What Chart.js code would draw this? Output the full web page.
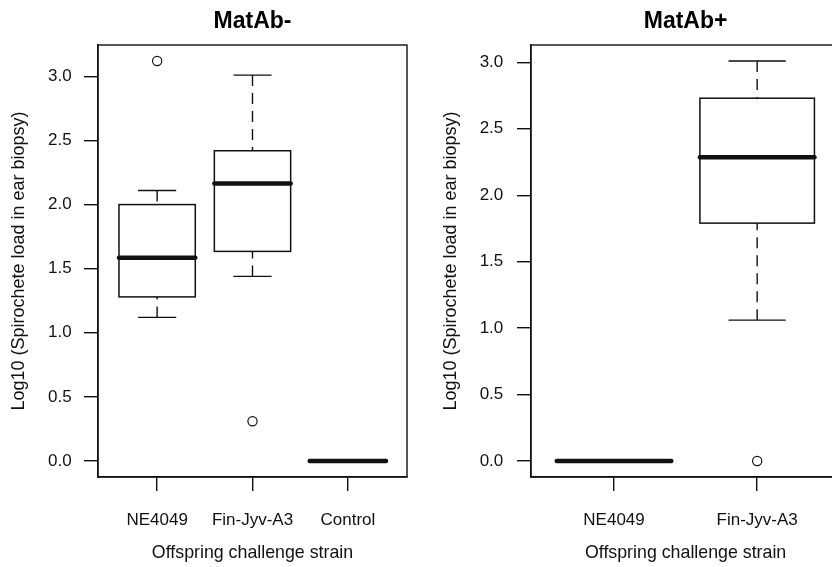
<!DOCTYPE html>
<html>
<head>
<meta charset="utf-8">
<script src="https://cdn.jsdelivr.net/npm/chart.js@4/dist/chart.umd.min.js"></script>
<style>
  html, body { margin: 0; padding: 0; background: #fff; overflow: hidden; width: 832px; height: 567px; }
  canvas { position: absolute; top: 0; }
  #c1 { left: 0; }
  #c2 { left: 416px; }
</style>
</head>
<body>
<canvas id="c1" width="416" height="567"></canvas>
<canvas id="c2" width="430" height="567"></canvas>
<script>
// ---------- data ----------
const panelTitles = ['MatAb-', 'MatAb+'];
const yAxisTitle = 'Log10 (Spirochete load in ear biopsy)';
const xAxisTitle = 'Offspring challenge strain';
const yTickValues = [0, 0.5, 1.0, 1.5, 2.0, 2.5, 3.0];

// MatAb- panel
const catsMinus = ['NE4049', 'Fin-Jyv-A3', 'Control'];
const lowWhiskMinus = [1.12, 1.44, 0];
const q1Minus = [1.28, 1.635, 0];
const medianMinus = [1.585, 2.165, 0];
const q3Minus = [2.00, 2.42, 0];
const highWhiskMinus = [2.11, 3.01, 0];
const outliersMinus = [[3.12], [0.31], []];

// MatAb+ panel
const catsPlus = ['NE4049', 'Fin-Jyv-A3'];
const lowWhiskPlus = [0, 1.06];
const q1Plus = [0, 1.79];
const medianPlus = [0, 2.285];
const q3Plus = [0, 2.73];
const highWhiskPlus = [0, 3.01];
const outliersPlus = [[], [0]];

// ---------- drawing ----------
const INK = '#111';
const FONT = '"Liberation Sans", Arial, Helvetica, sans-serif';
Chart.defaults.font.family = FONT;
Chart.defaults.color = INK;

const BOXWEX = 0.8;

const boxPlugin = {
  id: 'rbox',
  afterDatasetsDraw(chart, args, opts) {
    const { ctx, scales: { x, y } } = chart;
    const s = opts.stats;
    ctx.save();
    ctx.strokeStyle = INK;
    for (let i = 0; i < s.median.length; i++) {
      const xc = x.getPixelForValue(i + 1);
      const hw = Math.abs(x.getPixelForValue(i + 1 + BOXWEX / 2) - xc);
      const yLo = y.getPixelForValue(s.low[i]);
      const yQ1 = y.getPixelForValue(s.q1[i]);
      const yMed = y.getPixelForValue(s.median[i]);
      const yQ3 = y.getPixelForValue(s.q3[i]);
      const yHi = y.getPixelForValue(s.high[i]);
      // dashed whiskers, from whisker end toward the box
      ctx.lineWidth = 1.4;
      ctx.setLineDash([11, 7]);
      ctx.lineCap = 'butt';
      ctx.beginPath();
      ctx.moveTo(xc, yLo); ctx.lineTo(xc, yQ1);
      ctx.moveTo(xc, yHi); ctx.lineTo(xc, yQ3);
      ctx.stroke();
      ctx.setLineDash([]);
      // staples
      ctx.beginPath();
      ctx.moveTo(xc - hw / 2, yLo); ctx.lineTo(xc + hw / 2, yLo);
      ctx.moveTo(xc - hw / 2, yHi); ctx.lineTo(xc + hw / 2, yHi);
      ctx.stroke();
      // box
      ctx.lineWidth = 1.5;
      ctx.strokeRect(xc - hw, yQ3, 2 * hw, yQ1 - yQ3);
      // median
      ctx.lineWidth = 4.5;
      ctx.lineCap = 'round';
      ctx.beginPath();
      ctx.moveTo(xc - hw, yMed); ctx.lineTo(xc + hw, yMed);
      ctx.stroke();
      ctx.lineCap = 'butt';
    }
    ctx.restore();
  },
  afterDraw(chart) {
    const { ctx, chartArea: a } = chart;
    ctx.save();
    ctx.strokeStyle = INK;
    ctx.lineWidth = 1.4;
    ctx.strokeRect(a.left, a.top, a.right - a.left, a.bottom - a.top);
    ctx.restore();
  }
};

function makePanel(canvasId, title, cats, low, q1, med, q3, high, outs, L) {
  const n = cats.length;
  // R-style axis limits (4% extension)
  const allVals = [].concat(low, high, ...outs);
  const dMin = Math.min(...allVals), dMax = Math.max(...allVals);
  const yExt = 0.04 * (dMax - dMin);
  const xExt = 0.04 * n;
  const outlierPts = [];
  outs.forEach((arr, i) => arr.forEach(v => outlierPts.push({ x: i + 1, y: v })));

  return new Chart(document.getElementById(canvasId), {
    type: 'scatter',
    data: {
      datasets: [{
        data: outlierPts,
        pointStyle: 'circle',
        pointRadius: 4.6,
        pointBorderWidth: 1.2,
        borderColor: INK,
        backgroundColor: 'rgba(0,0,0,0)',
        showLine: false
      }]
    },
    options: {
      responsive: false,
      animation: false,
      devicePixelRatio: 1,
      layout: { padding: { left: 0, right: L.padRight, top: 0, bottom: 0 } },
      plugins: {
        legend: { display: false },
        tooltip: { enabled: false },
        title: {
          display: true,
          text: title,
          fullSize: false,
          color: '#000',
          font: { size: 23, weight: 'bold', family: FONT, lineHeight: 1.2 },
          padding: { top: 7.5, bottom: 9.9 }
        },
        rbox: { stats: { low, q1, median: med, q3, high } }
      },
      scales: {
        x: {
          type: 'linear',
          min: 0.5 - xExt,
          max: n + 0.5 + xExt,
          afterBuildTicks: (sc) => { sc.ticks = cats.map((c, i) => ({ value: i + 1 })); },
          afterFit: (sc) => { sc.height = 90; },
          ticks: {
            callback: (v) => cats[v - 1],
            font: { size: 17, family: FONT, lineHeight: 1.2 },
            color: INK,
            padding: 19.6,
            maxRotation: 0,
            autoSkip: false
          },
          grid: { drawOnChartArea: false, drawTicks: true, tickLength: 14, color: INK, lineWidth: 1.4 },
          border: { display: true, color: INK, width: 1.4 },
          title: {
            display: true,
            text: xAxisTitle,
            color: INK,
            font: { size: 17.8, family: FONT, lineHeight: 1.2 },
            padding: { top: 0, bottom: 3.3 }
          }
        },
        y: {
          type: 'linear',
          min: dMin - yExt,
          max: dMax + yExt,
          afterBuildTicks: (sc) => { sc.ticks = yTickValues.map(v => ({ value: v })); },
          afterFit: (sc) => { sc.width = L.yWidth; },
          ticks: {
            callback: (v) => Number(v).toFixed(1),
            font: { size: 17, family: FONT, lineHeight: 1.2 },
            color: INK,
            padding: L.yTickPad,
            autoSkip: false
          },
          grid: { drawOnChartArea: false, drawTicks: true, tickLength: 14, color: INK, lineWidth: 1.4 },
          border: { display: true, color: INK, width: 1.4 },
          title: {
            display: true,
            text: yAxisTitle,
            color: INK,
            font: { size: 18, family: FONT, lineHeight: 1.2 },
            padding: { top: L.yTitlePad, bottom: 0 }
          }
        }
      }
    },
    plugins: [boxPlugin]
  });
}

makePanel('c1', panelTitles[0], catsMinus, lowWhiskMinus, q1Minus, medianMinus, q3Minus, highWhiskMinus, outliersMinus,
  { padRight: 9, yWidth: 98, yTickPad: 12.3, yTitlePad: 7.8 });
makePanel('c2', panelTitles[1], catsPlus, lowWhiskPlus, q1Plus, medianPlus, q3Plus, highWhiskPlus, outliersPlus,
  { padRight: 0, yWidth: 115, yTickPad: 13.7, yTitlePad: 24.4 });
</script>
</body>
</html>
